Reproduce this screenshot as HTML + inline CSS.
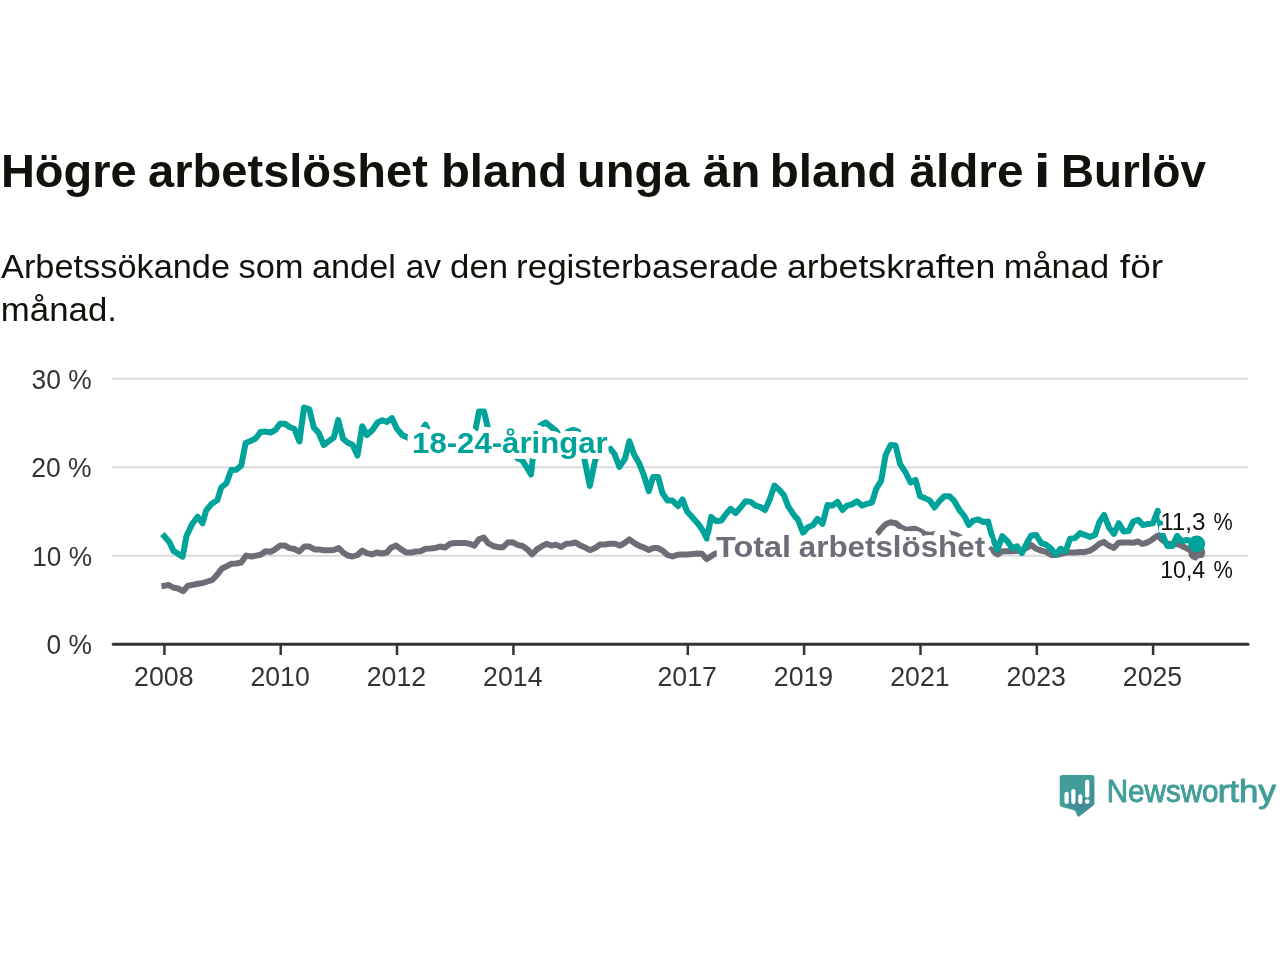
<!DOCTYPE html>
<html lang="sv">
<head>
<meta charset="utf-8">
<title>Högre arbetslöshet bland unga än bland äldre i Burlöv</title>
<style>
html,body{margin:0;padding:0;background:#fff;}
body{width:1280px;height:960px;overflow:hidden;font-family:"Liberation Sans","DejaVu Sans",sans-serif;}
svg{display:block;font-family:"Liberation Sans","DejaVu Sans",sans-serif;will-change:transform;}
</style>
</head>
<body>
<svg width="1280" height="960" viewBox="0 0 1280 960">
<rect width="1280" height="960" fill="#ffffff"/>
<!-- title -->
<text y="186.9" font-size="46.5" font-weight="bold" fill="#12120c"><tspan x="0.97" textLength="135.65" lengthAdjust="spacingAndGlyphs">Högre</tspan> <tspan x="148.14" textLength="279.69" lengthAdjust="spacingAndGlyphs">arbetslöshet</tspan> <tspan x="440.95" textLength="126.10" lengthAdjust="spacingAndGlyphs">bland</tspan> <tspan x="576.97" textLength="112.36" lengthAdjust="spacingAndGlyphs">unga</tspan> <tspan x="702.67" textLength="57.78" lengthAdjust="spacingAndGlyphs">än</tspan> <tspan x="769.73" textLength="126.73" lengthAdjust="spacingAndGlyphs">bland</tspan> <tspan x="909.42" textLength="114.08" lengthAdjust="spacingAndGlyphs">äldre</tspan> <tspan x="1033.75" textLength="16.90" lengthAdjust="spacingAndGlyphs">i</tspan> <tspan x="1061.05" textLength="144.81" lengthAdjust="spacingAndGlyphs">Burlöv</tspan></text>
<!-- subtitle -->
<text y="278" font-size="33.5" fill="#12120c"><tspan x="1.00" textLength="229.02" lengthAdjust="spacingAndGlyphs">Arbetssökande</tspan> <tspan x="238.47" textLength="65.09" lengthAdjust="spacingAndGlyphs">som</tspan> <tspan x="311.96" textLength="83.91" lengthAdjust="spacingAndGlyphs">andel</tspan> <tspan x="405.70" textLength="35.44" lengthAdjust="spacingAndGlyphs">av</tspan> <tspan x="450.14" textLength="58.10" lengthAdjust="spacingAndGlyphs">den</tspan> <tspan x="516.05" textLength="262.31" lengthAdjust="spacingAndGlyphs">registerbaserade</tspan> <tspan x="787.00" textLength="208.23" lengthAdjust="spacingAndGlyphs">arbetskraften</tspan> <tspan x="1003.69" textLength="105.36" lengthAdjust="spacingAndGlyphs">månad</tspan> <tspan x="1119.85" textLength="43.23" lengthAdjust="spacingAndGlyphs">för</tspan></text>
<text y="320.5" font-size="33.5" fill="#12120c"><tspan x="0.86" textLength="116.05" lengthAdjust="spacingAndGlyphs">månad.</tspan></text>
<!-- grid -->
<g stroke="#dadada" stroke-width="2">
<line x1="112" y1="378.75" x2="1248" y2="378.75"/>
<line x1="112" y1="467.25" x2="1248" y2="467.25"/>
<line x1="112" y1="555.75" x2="1248" y2="555.75"/>
</g>
<!-- y labels -->
<text y="388.6" font-size="27" fill="#333333"><tspan x="31.52" textLength="60.10" lengthAdjust="spacingAndGlyphs">30 %</tspan></text>
<text y="477.1" font-size="27" fill="#333333"><tspan x="31.27" textLength="60.35" lengthAdjust="spacingAndGlyphs">20 %</tspan></text>
<text y="565.5" font-size="27" fill="#333333"><tspan x="32.26" textLength="59.65" lengthAdjust="spacingAndGlyphs">10 %</tspan></text>
<text y="654.0" font-size="27" fill="#333333"><tspan x="46.52" textLength="45.38" lengthAdjust="spacingAndGlyphs">0 %</tspan></text>

<!-- series -->
<polyline points="161.5,586.2 168.8,585.0 173.1,587.5 178.1,588.5 183.1,591.2 188.1,585.6 193.1,584.8 198.1,583.8 203.1,582.9 207.5,581.5 212.5,579.8 217.5,574.4 221.9,568.5 226.9,566.2 231.2,563.8 236.2,563.5 241.2,562.5 246.2,555.6 251.2,556.5 256.2,555.6 260.6,554.8 265.6,551.2 270.6,551.9 275.0,549.4 280.0,545.6 285.0,545.6 289.4,548.1 294.4,549.0 299.4,551.5 304.4,546.5 309.4,546.5 314.4,549.4 318.8,549.4 323.8,550.2 328.8,550.2 333.8,550.0 338.8,548.1 343.1,552.5 348.1,555.6 352.5,556.5 357.5,555.0 362.1,550.6 366.9,553.1 371.9,554.4 376.9,552.5 381.9,553.5 386.9,552.5 391.2,547.5 396.2,545.6 401.2,549.4 406.2,552.5 411.2,552.5 416.2,551.5 420.6,551.2 425.6,548.8 430.6,548.5 435.0,548.1 440.0,546.5 445.0,547.5 450.0,543.8 455.0,543.0 460.0,542.9 464.4,542.9 469.4,543.8 474.4,545.6 478.8,539.4 483.8,537.5 488.1,543.1 493.1,546.0 498.1,547.2 503.1,547.2 507.8,542.5 512.5,542.2 517.5,544.8 522.5,546.0 527.5,549.4 532.1,554.4 536.9,549.4 541.9,546.2 546.5,543.8 551.5,545.6 556.2,544.8 561.2,546.9 566.2,543.8 571.2,543.5 575.6,542.5 580.6,545.6 585.6,547.8 590.0,550.2 595.0,548.1 600.0,544.5 605.0,544.5 610.0,543.8 615.0,543.8 620.0,545.6 624.4,543.1 629.4,539.4 634.4,543.1 638.8,545.6 643.8,547.5 648.8,550.0 653.1,548.1 658.1,548.1 662.5,550.6 667.5,555.0 672.5,556.5 677.5,554.8 682.5,554.4 687.5,554.4 692.5,554.1 696.9,553.5 701.9,553.8 706.6,559.1 715.0,553.8 720.0,553.0 730.0,554.0 745.0,553.5 760.0,553.0 780.0,553.5 800.0,553.0 820.0,553.5 840.0,553.0 855.0,552.5 861.0,551.0 866.0,548.0 871.0,542.0 876.0,535.5 881.0,529.0 886.0,524.0 890.5,522.3 896.0,523.3 901.0,527.5 906.0,529.8 911.0,529.2 915.0,528.8 920.0,531.0 925.0,534.0 930.0,535.0 935.0,534.0 940.0,533.0 945.0,532.8 950.0,533.3 955.0,534.8 960.0,537.0 965.0,540.0 970.0,543.0 975.0,545.0 980.0,546.5 985.0,547.5 990.0,548.8 997.5,554.4 1002.5,551.2 1011.9,551.2 1021.2,550.6 1026.2,548.1 1031.2,545.0 1036.2,548.8 1041.2,550.6 1046.2,551.9 1051.2,555.0 1056.2,555.0 1061.2,553.8 1066.2,552.5 1075.0,552.5 1080.0,551.9 1085.0,551.9 1090.0,550.6 1095.0,547.5 1099.4,543.8 1103.8,541.9 1108.6,545.6 1114.0,547.9 1118.5,542.7 1123.5,542.4 1128.8,542.5 1133.0,542.8 1138.0,541.5 1142.2,543.9 1146.0,543.0 1150.6,540.6 1154.4,537.8 1157.7,535.6 1161.9,539.7 1167.4,543.5 1172.0,544.5 1177.8,543.9 1182.5,546.2 1187.2,548.6 1191.9,550.5 1196.6,552.3" fill="none" stroke="#6e6c76" stroke-width="6" stroke-linejoin="round" stroke-linecap="butt"/>
<polyline points="162.4,534.0 169.3,542.0 173.5,550.9 182.6,556.7 186.5,536.0 192.0,524.2 197.6,516.7 202.5,523.3 206.2,510.3 211.6,503.8 217.3,500.3 221.2,487.5 226.5,483.1 231.2,470.0 236.2,469.8 241.2,465.6 245.6,443.1 250.0,441.2 255.6,438.5 260.6,431.9 265.6,431.6 270.6,432.5 275.6,429.8 280.0,423.8 285.0,423.8 290.0,427.2 294.4,428.8 299.4,441.5 304.0,407.5 309.4,409.4 313.8,427.5 318.8,433.1 323.8,445.0 328.8,441.2 333.8,437.5 338.2,420.0 343.1,438.8 347.5,442.5 352.5,444.8 357.5,455.6 362.2,426.2 366.9,435.0 372.5,430.0 377.5,422.5 382.3,420.3 387.0,422.0 391.9,418.1 396.9,428.8 402.2,435.0 407.5,437.5 412.0,440.0 417.0,439.5 421.0,432.0 425.3,424.7 429.5,433.0 434.0,440.0 440.0,441.0 446.0,440.0 452.0,441.5 458.0,440.5 464.0,441.0 470.5,438.5 475.5,429.4 479.0,411.6 484.0,411.6 487.8,427.5 491.5,438.0 496.0,442.0 503.0,443.0 508.0,446.0 513.0,451.0 517.5,458.5 522.3,460.3 526.5,467.0 531.0,474.5 535.6,433.0 540.6,425.2 545.9,422.5 550.5,426.5 555.6,430.3 560.0,436.0 564.0,437.0 568.0,431.5 573.5,429.8 578.0,431.5 581.0,440.0 585.0,462.0 589.8,486.0 594.8,462.0 599.6,446.0 604.4,443.5 609.4,447.5 614.4,453.8 619.4,466.9 625.0,458.8 629.4,441.2 633.8,453.8 639.4,463.8 643.8,475.0 648.8,491.2 653.1,476.9 658.1,476.9 662.5,493.1 667.5,500.6 672.5,500.6 678.1,506.2 682.5,499.4 686.9,511.2 692.5,517.5 698.1,523.8 702.5,530.0 706.9,538.6 711.2,516.9 716.2,521.2 721.2,520.6 726.2,513.8 730.6,508.8 735.6,513.1 740.6,507.5 745.6,501.2 750.6,501.9 755.6,505.6 760.0,506.9 765.0,510.0 770.0,498.8 774.4,485.6 779.4,490.0 783.8,495.0 788.1,506.2 793.1,513.8 798.1,520.0 803.1,532.9 807.5,527.5 813.1,525.0 817.5,518.8 822.5,523.8 827.5,505.0 832.5,505.6 837.5,501.9 842.5,510.0 846.9,505.6 851.9,504.4 856.9,501.2 861.9,505.6 866.9,503.8 871.9,502.5 876.2,488.8 881.2,480.6 885.6,455.0 890.6,445.0 895.6,445.6 900.0,463.8 905.6,472.5 910.6,482.5 915.6,480.0 920.0,496.2 925.0,498.1 930.0,500.6 934.4,507.5 939.4,501.2 944.4,496.2 949.4,496.2 954.4,501.2 959.4,510.0 964.4,516.2 968.8,525.0 973.1,520.6 978.1,519.4 983.4,522.0 988.1,521.6 992.5,537.8 997.5,549.8 1002.2,536.2 1007.5,541.2 1011.9,548.1 1016.9,546.2 1021.9,553.1 1026.9,543.1 1031.2,535.6 1036.2,535.0 1041.2,543.1 1045.6,544.4 1050.6,548.1 1055.6,554.6 1060.6,548.8 1065.6,551.2 1070.0,538.8 1075.0,538.1 1080.0,533.1 1085.0,535.0 1090.0,536.9 1095.0,535.0 1099.4,521.9 1104.1,514.9 1109.0,527.5 1113.9,533.9 1118.8,523.2 1123.7,531.5 1128.7,530.9 1133.2,521.6 1138.2,519.7 1143.1,525.2 1148.0,523.9 1152.9,523.3 1157.7,510.8 1162.5,535.0 1167.4,546.1 1172.3,546.1 1177.2,535.9 1181.9,541.4 1186.8,540.0 1191.7,541.1 1196.6,544.2" fill="none" stroke="#00a39a" stroke-width="6" stroke-linejoin="round" stroke-linecap="butt"/>
<circle cx="1196.7" cy="552.2" r="8.5" fill="#6e6c76"/>
<circle cx="1196.7" cy="544.1" r="8.5" fill="#00a39a"/>
<!-- axis -->
<line x1="113.2" y1="644.25" x2="1248" y2="644.25" stroke="#333333" stroke-width="3" stroke-linecap="round"/>
<line x1="164.4" y1="644.25" x2="164.4" y2="655" stroke="#333333" stroke-width="2.5"/>
<text x="163.8" y="685.5" text-anchor="middle" font-size="27" fill="#333333" textLength="59.4" lengthAdjust="spacingAndGlyphs">2008</text>
<line x1="280.7" y1="644.25" x2="280.7" y2="655" stroke="#333333" stroke-width="2.5"/>
<text x="280.1" y="685.5" text-anchor="middle" font-size="27" fill="#333333" textLength="59.4" lengthAdjust="spacingAndGlyphs">2010</text>
<line x1="397.0" y1="644.25" x2="397.0" y2="655" stroke="#333333" stroke-width="2.5"/>
<text x="396.4" y="685.5" text-anchor="middle" font-size="27" fill="#333333" textLength="59.4" lengthAdjust="spacingAndGlyphs">2012</text>
<line x1="513.4" y1="644.25" x2="513.4" y2="655" stroke="#333333" stroke-width="2.5"/>
<text x="512.8" y="685.5" text-anchor="middle" font-size="27" fill="#333333" textLength="59.4" lengthAdjust="spacingAndGlyphs">2014</text>
<line x1="687.8" y1="644.25" x2="687.8" y2="655" stroke="#333333" stroke-width="2.5"/>
<text x="687.2" y="685.5" text-anchor="middle" font-size="27" fill="#333333" textLength="59.4" lengthAdjust="spacingAndGlyphs">2017</text>
<line x1="804.1" y1="644.25" x2="804.1" y2="655" stroke="#333333" stroke-width="2.5"/>
<text x="803.5" y="685.5" text-anchor="middle" font-size="27" fill="#333333" textLength="59.4" lengthAdjust="spacingAndGlyphs">2019</text>
<line x1="920.5" y1="644.25" x2="920.5" y2="655" stroke="#333333" stroke-width="2.5"/>
<text x="919.9" y="685.5" text-anchor="middle" font-size="27" fill="#333333" textLength="59.4" lengthAdjust="spacingAndGlyphs">2021</text>
<line x1="1036.8" y1="644.25" x2="1036.8" y2="655" stroke="#333333" stroke-width="2.5"/>
<text x="1036.2" y="685.5" text-anchor="middle" font-size="27" fill="#333333" textLength="59.4" lengthAdjust="spacingAndGlyphs">2023</text>
<line x1="1153.1" y1="644.25" x2="1153.1" y2="655" stroke="#333333" stroke-width="2.5"/>
<text x="1152.5" y="685.5" text-anchor="middle" font-size="27" fill="#333333" textLength="59.4" lengthAdjust="spacingAndGlyphs">2025</text>

<!-- series labels -->
<g font-weight="bold" font-size="29" stroke-linejoin="round" paint-order="stroke" stroke="#ffffff" stroke-width="12">
<text y="452.8" fill="#00a39a"><tspan x="412.12" textLength="195.51" lengthAdjust="spacingAndGlyphs">18-24-åringar</tspan></text>
<text y="556.7" fill="#6e6c76"><tspan x="716.12" textLength="74.85" lengthAdjust="spacingAndGlyphs">Total</tspan> <tspan x="798.79" textLength="186.30" lengthAdjust="spacingAndGlyphs">arbetslöshet</tspan></text>
</g>
<g font-size="23.5" stroke-linejoin="round" paint-order="stroke" stroke="#ffffff" stroke-width="6" fill="#12120c">
<text y="529.5"><tspan x="1160.20" textLength="45.33" lengthAdjust="spacingAndGlyphs">11,3</tspan> <tspan x="1213.51" textLength="19.22" lengthAdjust="spacingAndGlyphs">%</tspan></text>
<text y="578.3"><tspan x="1160.28" textLength="44.96" lengthAdjust="spacingAndGlyphs">10,4</tspan> <tspan x="1213.51" textLength="19.33" lengthAdjust="spacingAndGlyphs">%</tspan></text>
</g>
<!-- logo -->
<g id="logo">
<defs>
<clipPath id="bub"><path d="M1062.2 775 H1091.9 Q1094.4 775 1094.4 777.5 V803.6 Q1094.4 804.6 1093.6 805.2 L1079.6 816.2 Q1077.9 817.5 1077.2 815.6 L1075.6 811.8 Q1075 810.5 1073.6 810.1 L1061.9 807 Q1059.7 806.4 1059.7 804.2 V777.5 Q1059.7 775 1062.2 775 Z"/></clipPath>
<linearGradient id="shd" x1="0" y1="0" x2="1" y2="1">
<stop offset="0" stop-color="#3a5a93" stop-opacity="0.3"/>
<stop offset="0.75" stop-color="#3a5a93" stop-opacity="0"/>
</linearGradient>
</defs>
<path d="M1062.2 775 H1091.9 Q1094.4 775 1094.4 777.5 V803.6 Q1094.4 804.6 1093.6 805.2 L1079.6 816.2 Q1077.9 817.5 1077.2 815.6 L1075.6 811.8 Q1075 810.5 1073.6 810.1 L1061.9 807 Q1059.7 806.4 1059.7 804.2 V777.5 Q1059.7 775 1062.2 775 Z" fill="#419d98"/>
<g clip-path="url(#bub)" fill="url(#shd)">
<polygon points="1068.7,793 1088.7,813 1084.4,824 1064.4,804"/>
<polygon points="1075.5,790.2 1095.5,810.2 1091.2,824 1071.2,804"/>
<polygon points="1082.4,795.4 1102.4,815.4 1098.1,824 1078.1,804"/>
<polygon points="1089.4,780.9 1109.4,800.9 1105.1,824 1085.1,804"/>
</g>
<g stroke="#ffffff" stroke-width="4.3" stroke-linecap="round">
<line x1="1066.6" y1="794" x2="1066.6" y2="802"/>
<line x1="1073.4" y1="791.2" x2="1073.4" y2="802"/>
<line x1="1080.3" y1="796.4" x2="1080.3" y2="802"/>
<line x1="1087.25" y1="781.9" x2="1087.25" y2="795.7"/>
</g>
<circle cx="1087.25" cy="801.6" r="2.4" fill="#ffffff"/>
<text y="801.6" font-size="30.8" fill="#419d98" stroke="#419d98" stroke-width="0.9"><tspan x="1106.70" textLength="111.84" lengthAdjust="spacingAndGlyphs">Newswo</tspan><tspan x="1217.74" textLength="58.07" lengthAdjust="spacingAndGlyphs">rthy</tspan></text>
</g>
</svg>
</body>
</html>
